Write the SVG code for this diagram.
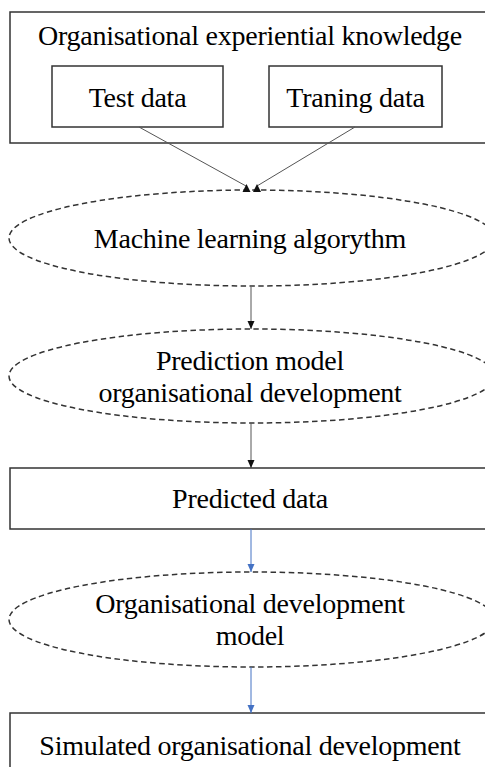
<svg xmlns="http://www.w3.org/2000/svg" width="485" height="767" viewBox="0 0 485 767">
<style>
  .box { fill: #fff; stroke: #333; stroke-width: 1.5; }
  .ell { fill: #fff; stroke: #333; stroke-width: 1.5; stroke-dasharray: 5.5 3.5; }
  .t { font-family: "Liberation Serif", "Times New Roman", serif; font-size: 28px; letter-spacing: -0.25px; fill: #000; text-anchor: middle; }
  .ln { stroke: #555; stroke-width: 1; fill: none; }
  .blue { stroke: #4472C4; stroke-width: 1; fill: none; }
</style>
<defs>
  <marker id="ah" markerUnits="userSpaceOnUse" markerWidth="8" markerHeight="8" refX="8" refY="3.5" orient="auto">
    <path d="M0,0 L8,3.5 L0,7 z" fill="#111"/>
  </marker>
  <marker id="ahb" markerUnits="userSpaceOnUse" markerWidth="8" markerHeight="8" refX="8" refY="3.5" orient="auto">
    <path d="M0,0 L8,3.5 L0,7 z" fill="#4472C4"/>
  </marker>
</defs>
<rect width="485" height="767" fill="#fff"/>

<g id="knowledge">
  <rect class="box" x="10" y="12" width="490" height="131"/>
  <text class="t" x="250" y="45">Organisational experiential knowledge</text>
</g>
<g id="test-data">
  <rect class="box" x="52" y="66" width="171" height="61"/>
  <text class="t" x="137.5" y="107">Test data</text>
</g>
<g id="training-data">
  <rect class="box" x="269" y="66" width="173" height="61"/>
  <text class="t" x="355.5" y="107">Traning data</text>
</g>
<g id="ml-algorithm">
  <ellipse class="ell" cx="252" cy="238" rx="243" ry="48"/>
  <text class="t" x="250" y="248">Machine learning algorythm</text>
</g>
<g id="prediction-model">
  <ellipse class="ell" cx="252" cy="376" rx="243" ry="47"/>
  <text class="t" x="250" y="370">Prediction model</text>
  <text class="t" x="250" y="402">organisational development</text>
</g>
<g id="predicted-data">
  <rect class="box" x="10" y="468" width="490" height="61"/>
  <text class="t" x="250" y="508">Predicted data</text>
</g>
<g id="od-model">
  <ellipse class="ell" cx="252" cy="619.5" rx="243" ry="47.5"/>
  <text class="t" x="250" y="613">Organisational development</text>
  <text class="t" x="250" y="645">model</text>
</g>
<g id="simulated">
  <rect class="box" x="10" y="713" width="490" height="80"/>
  <text class="t" x="250" y="755">Simulated organisational development</text>
</g>

<g id="connectors">
  <line class="ln" x1="139" y1="127" x2="246" y2="186"/>
  <line class="ln" x1="355" y1="127" x2="257" y2="186"/>
  <polygon points="242.5,192 246.5,184 250.5,192" fill="#111"/>
  <polygon points="253,192 257,184 261,192" fill="#111"/>
  <line class="ln" x1="251" y1="287" x2="251" y2="329" marker-end="url(#ah)"/>
  <line class="ln" x1="251" y1="423" x2="251" y2="468" marker-end="url(#ah)"/>
  <line class="blue" x1="251" y1="529" x2="251" y2="572" marker-end="url(#ahb)"/>
  <line class="blue" x1="251" y1="667" x2="251" y2="713" marker-end="url(#ahb)"/>
</g>
</svg>
